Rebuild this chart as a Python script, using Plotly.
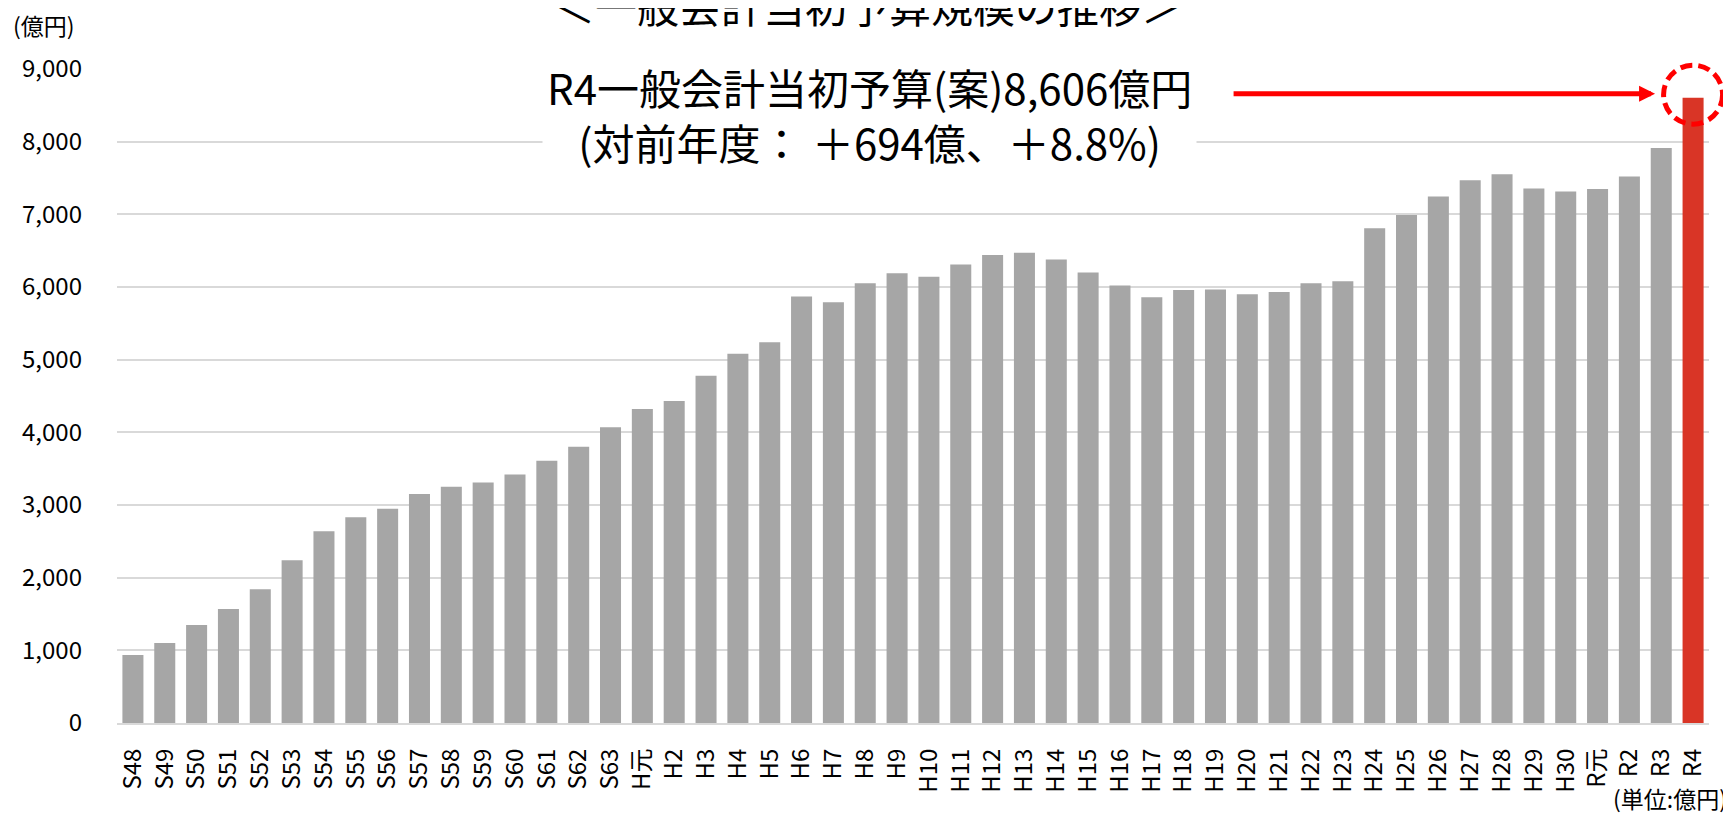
import plotly.graph_objects as go

# ---- data ----
categories = (["S48", "S49", "S50", "S51", "S52", "S53", "S54", "S55", "S56", "S57",
               "S58", "S59", "S60", "S61", "S62", "S63", "H元"]
              + ["H%d" % i for i in range(2, 31)]
              + ["R元", "R2", "R3", "R4"])
budget = [935, 1100, 1350, 1570, 1840, 2240, 2640, 2830, 2950, 3150,
          3250, 3310, 3420, 3610, 3800, 4070,
          4320, 4430, 4780, 5080, 5240, 5870, 5790, 6050, 6190, 6140,
          6310, 6440, 6470, 6380, 6200, 6020, 5860, 5960, 5965, 5900,
          5930, 6050, 6080, 6810, 6990, 7245, 7470, 7550, 7355, 7315,
          7350, 7520, 7912, 8606]
y_ticks = [0, 1000, 2000, 3000, 4000, 5000, 6000, 7000, 8000, 9000]
title_text = "＜一般会計当初予算規模の推移＞"
note_text = "R4一般会計当初予算(案)8,606億円<br>(対前年度： ＋694億、＋8.8%)"
y_unit = "(億円)"
unit_note = "(単位:億円)"

GRAY = "#A6A6A6"
HIGHLIGHT = "#D93526"
FONT = "Noto Sans CJK JP, Noto Sans, sans-serif"

colors = [GRAY] * (len(budget) - 1) + [HIGHLIGHT]
n = len(categories)
ymax = y_ticks[-1]

fig = go.Figure()
fig.add_trace(go.Bar(x=categories, y=budget, marker=dict(color=colors, line=dict(width=0)),
                     hoverinfo="x+y"))

# page body has an 8px default margin -> figure sized 8px smaller each way
fig.update_layout(
    width=1723, height=808,
    margin=dict(l=109, r=22, t=61, b=92.5),
    paper_bgcolor="white", plot_bgcolor="white",
    bargap=0.34, showlegend=False,
    font=dict(family=FONT, color="#000000"),
)
fig.update_xaxes(
    type="category", tickangle=-90, tickfont=dict(size=24, family=FONT, color="#000"),
    showline=True, linecolor="#D9D9D9", linewidth=2, showgrid=False,
    ticks="", ticklabelstandoff=14,
)
fig.update_yaxes(
    range=[0, ymax], tickvals=y_ticks, tickformat=",",
    tickfont=dict(size=24, family=FONT, color="#000"),
    showgrid=True, gridcolor="#D9D9D9", gridwidth=1.5, zeroline=False,
    ticks="", ticklabelstandoff=34,
)

# title (partially cut off at top, as in the original)
fig.add_annotation(text=title_text, xref="paper", yref="paper", x=0.472, y=1.0993,
                   xanchor="center", yanchor="middle", showarrow=False,
                   font=dict(size=42, family=FONT, color="#000"))
# axis unit
fig.add_annotation(text=y_unit, xref="paper", yref="paper", x=-0.046, y=1.0675,
                   xanchor="center", yanchor="middle", showarrow=False,
                   font=dict(size=23, family=FONT, color="#000"))
fig.add_annotation(text=unit_note, xref="paper", yref="paper", x=1.0126, y=-0.114,
                   xanchor="right", yanchor="middle", showarrow=False,
                   font=dict(size=23, family=FONT, color="#000"))
# highlighted note box
fig.add_annotation(text=note_text, xref="paper", yref="paper", x=0.4727, y=0.931,
                   xanchor="center", yanchor="middle", showarrow=False,
                   bgcolor="white", borderpad=4, align="center",
                   font=dict(size=42, family=FONT, color="#000"))
# arrow to the last bar
fig.add_annotation(text="", xref="x", yref="y", x=categories[-1], y=budget[-1],
                   xshift=-38, yshift=4, ax=-423, ay=0, axref="pixel", ayref="pixel",
                   showarrow=True, arrowhead=2, arrowsize=0.64, arrowwidth=5,
                   arrowcolor="#FF0000")
# dashed circle around the last bar top
fig.add_shape(type="circle", xref="x domain", yref="y domain",
              xsizemode="pixel", ysizemode="pixel",
              xanchor=(n - 0.5) / n, yanchor=budget[-1] / ymax,
              x0=-29.5, x1=29.5, y0=-26.5, y1=32.5,
              line=dict(color="#FF0000", width=5, dash="12px,6px"))

fig.write_html("out.html")
